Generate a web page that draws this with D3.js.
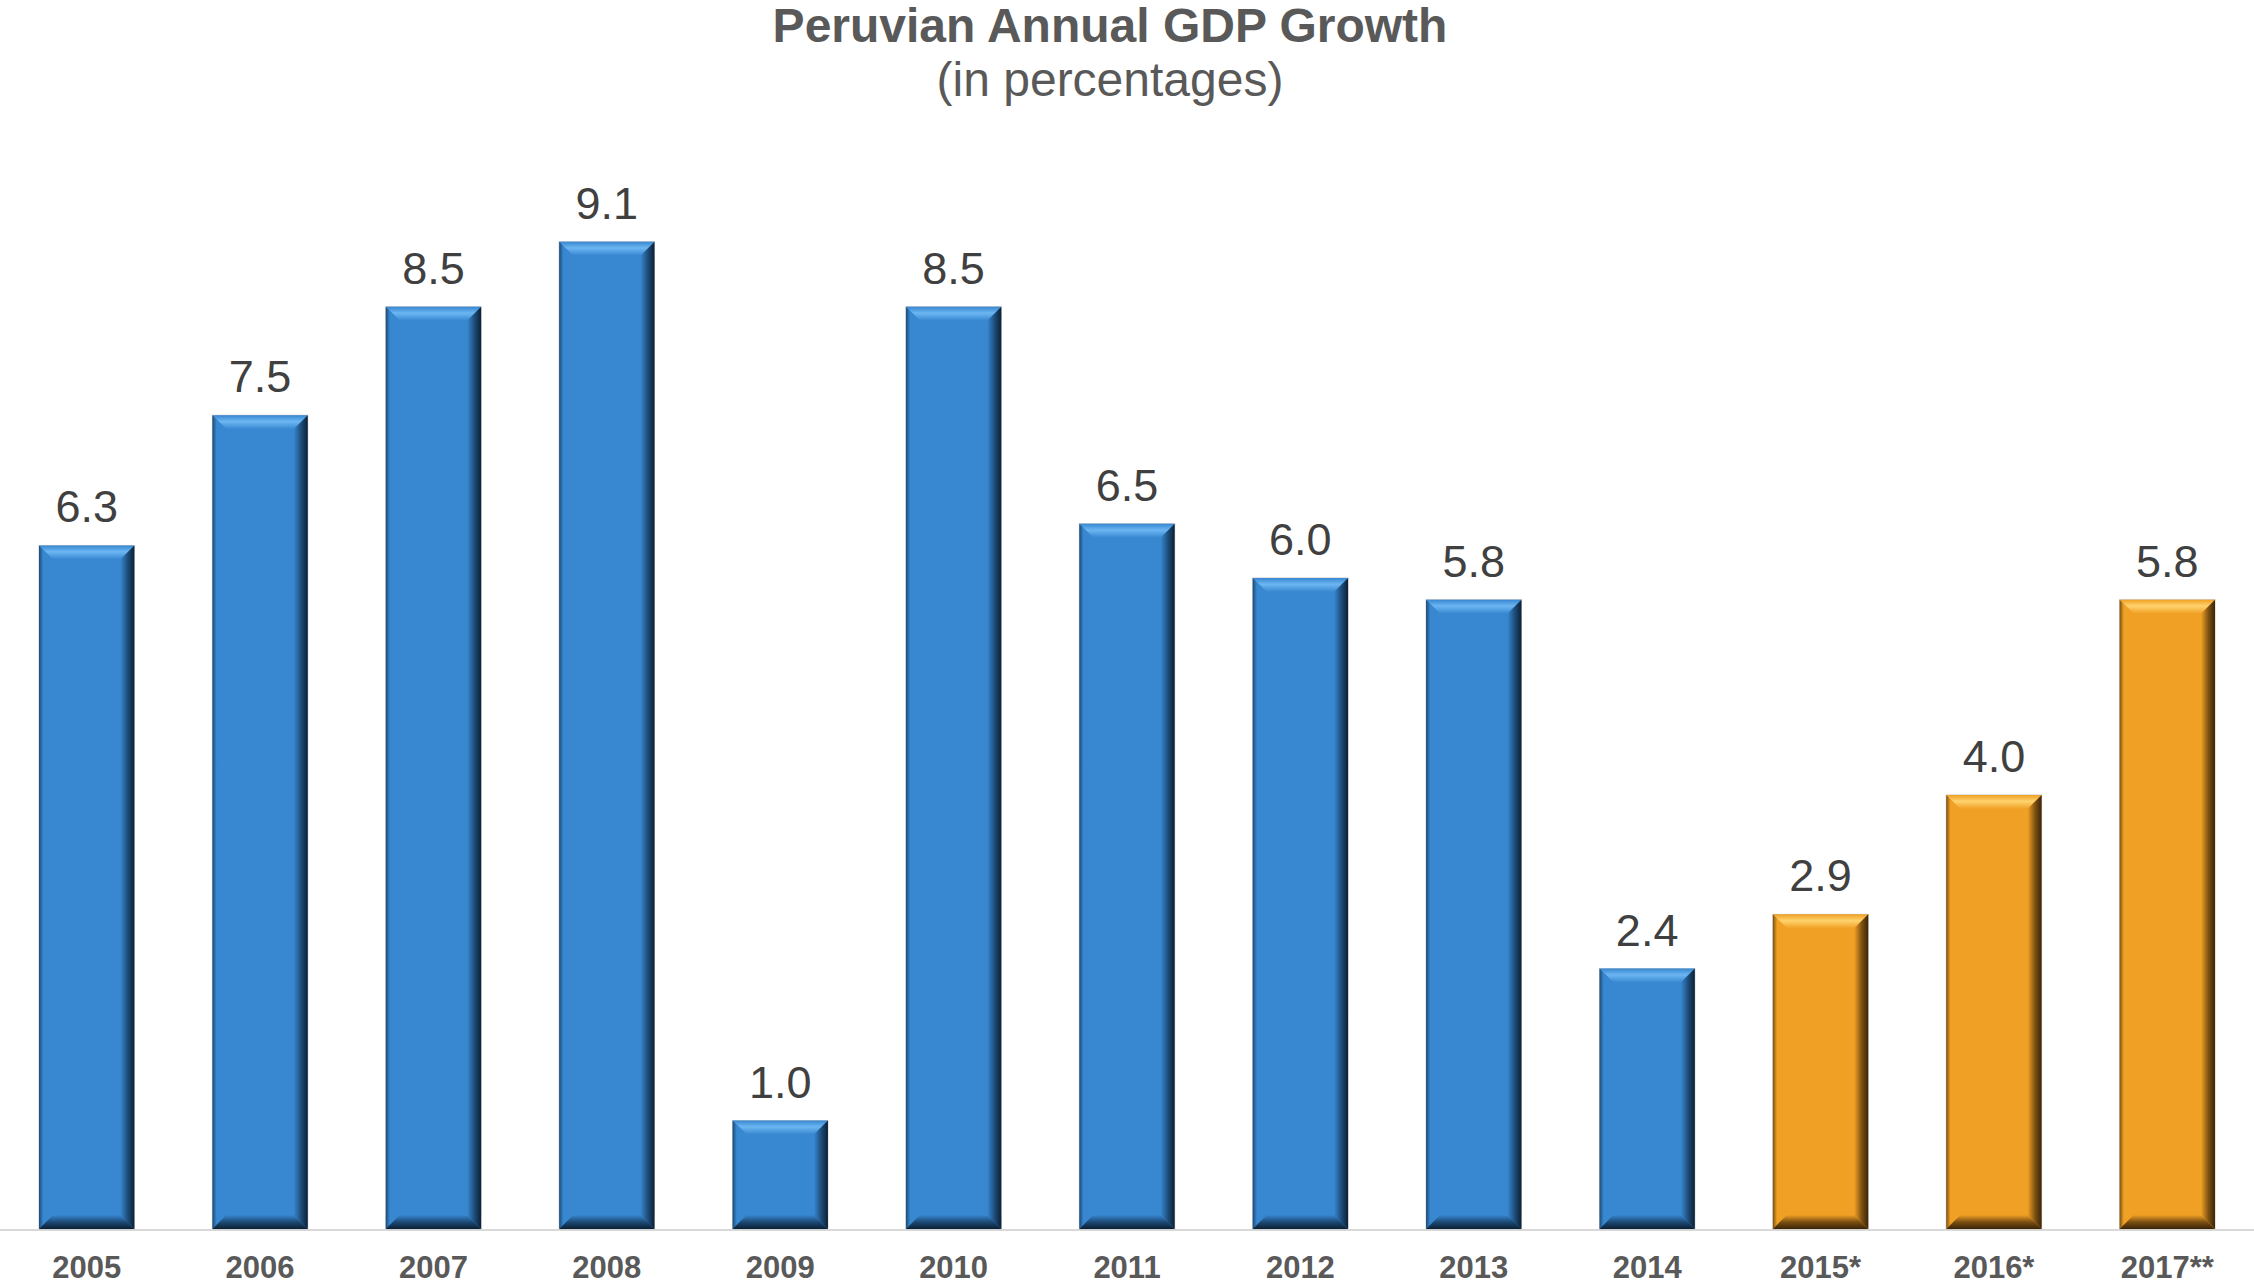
<!DOCTYPE html>
<html>
<head>
<meta charset="utf-8">
<script src="https://cdn.jsdelivr.net/npm/d3@7"></script>
<style>
  body { margin: 0; background: #fff; }
  text { font-family: "Liberation Sans", Arial, sans-serif; }
</style>
</head>
<body>
<svg id="chart"></svg>
<script>
// data
var years = ['2005', '2006', '2007', '2008', '2009', '2010', '2011', '2012', '2013', '2014', '2015*', '2016*', '2017**'];
var growth = [6.3, 7.5, 8.5, 9.1, 1.0, 8.5, 6.5, 6.0, 5.8, 2.4, 2.9, 4.0, 5.8];
// actual figures vs projections
var kind = ['actual', 'actual', 'actual', 'actual', 'actual', 'actual', 'actual', 'actual', 'actual', 'actual', 'forecast', 'forecast', 'forecast'];

// layout variables
var width = 2254;
var height = 1286;
var baseY = 1229;
var bevel = 14;

var palette = {
  actual:   {face: '#3787d1', light: '#6cb6f2', dark: '#0b2035', edge: '#1d4a75'},
  forecast: {face: '#f0a024', light: '#ffd36e', dark: '#3b2506', edge: '#7a4f12'}
};

// scales
var x = d3.scaleBand().domain(years).range([0, width]).paddingInner(0.45).paddingOuter(0.225);
var y = d3.scaleLinear().domain([0, 10]).range([baseY, 144]);

var svg = d3.select('#chart')
  .attr('width', width)
  .attr('height', height);

// gradients for the bevelled look
var defs = svg.append('defs');
function grad(id, x2, y2, stops) {
  var g = defs.append('linearGradient').attr('id', id)
    .attr('x1', 0).attr('y1', 0).attr('x2', x2).attr('y2', y2);
  stops.forEach(function(s) {
    g.append('stop').attr('offset', s[0]).attr('stop-color', s[1]);
  });
}
Object.keys(palette).forEach(function(k) {
  var p = palette[k];
  grad('top-' + k, 0, 1, [[0, p.face], [0.45, p.light], [1, p.face]]);
  grad('right-' + k, 1, 0, [[0, p.face], [0.55, p.edge], [1, p.dark]]);
  grad('bottom-' + k, 0, 1, [[0, p.face], [0.5, p.edge], [1, p.dark]]);
  grad('left-' + k, 1, 0, [[0, p.edge], [0.3, p.face], [1, p.face]]);
});

// title
svg.append('text')
  .attr('x', 1110).attr('y', 42)
  .attr('text-anchor', 'middle')
  .style('font-size', '48px').style('font-weight', 'bold')
  .style('fill', '#595959')
  .text('Peruvian Annual GDP Growth');
svg.append('text')
  .attr('x', 1110).attr('y', 96)
  .attr('text-anchor', 'middle')
  .style('font-size', '48px')
  .style('fill', '#595959')
  .text('(in percentages)');

// baseline
svg.append('line')
  .attr('x1', 0).attr('x2', width)
  .attr('y1', baseY + 1).attr('y2', baseY + 1)
  .style('stroke', '#d9d9d9').style('stroke-width', 2);

// bars
var bars = svg.selectAll('g.bar')
  .data(years)
  .enter()
  .append('g')
    .classed('bar', true);

bars.each(function(d, i) {
  var g = d3.select(this);
  var k = kind[i];
  var x0 = x(d), x1 = x(d) + x.bandwidth();
  var y0 = y(growth[i]), y1 = y(0);
  var b = bevel;
  function pts(a) { return a.map(function(p) { return p.join(','); }).join(' '); }

  g.append('rect')
    .attr('x', x0).attr('y', y0)
    .attr('width', x1 - x0).attr('height', y1 - y0)
    .style('fill', palette[k].face)
    .style('stroke', '#c8c8c8').style('stroke-width', 1);
  g.append('polygon')
    .attr('points', pts([[x0, y0], [x1, y0], [x1 - b, y0 + b], [x0 + b, y0 + b]]))
    .style('fill', 'url(#top-' + k + ')');
  g.append('polygon')
    .attr('points', pts([[x0, y0], [x0 + b, y0 + b], [x0 + b, y1 - b], [x0, y1]]))
    .style('fill', 'url(#left-' + k + ')');
  g.append('polygon')
    .attr('points', pts([[x1, y0], [x1, y1], [x1 - b, y1 - b], [x1 - b, y0 + b]]))
    .style('fill', 'url(#right-' + k + ')');
  g.append('polygon')
    .attr('points', pts([[x0, y1], [x0 + b, y1 - b], [x1 - b, y1 - b], [x1, y1]]))
    .style('fill', 'url(#bottom-' + k + ')');
});

// value labels
svg.selectAll('text.value')
  .data(years)
  .enter()
  .append('text')
    .classed('value', true)
    .attr('x', function(d) { return x(d) + x.bandwidth() / 2; })
    .attr('y', function(d, i) { return y(growth[i]) - 23; })
    .attr('text-anchor', 'middle')
    .style('font-size', '45px')
    .style('fill', '#404040')
    .text(function(d, i) { return growth[i].toFixed(1); });

// category axis
var xAxis = svg.append('g')
  .attr('transform', 'translate(0,' + baseY + ')')
  .call(d3.axisBottom(x).tickSize(0).tickPadding(49));
xAxis.select('.domain').remove();
xAxis.selectAll('text')
  .style('font-family', '"Liberation Sans", Arial, sans-serif')
  .style('font-size', '31px')
  .style('font-weight', 'bold')
  .style('fill', '#595959')
  .attr('dy', 0);
</script>
</body>
</html>
